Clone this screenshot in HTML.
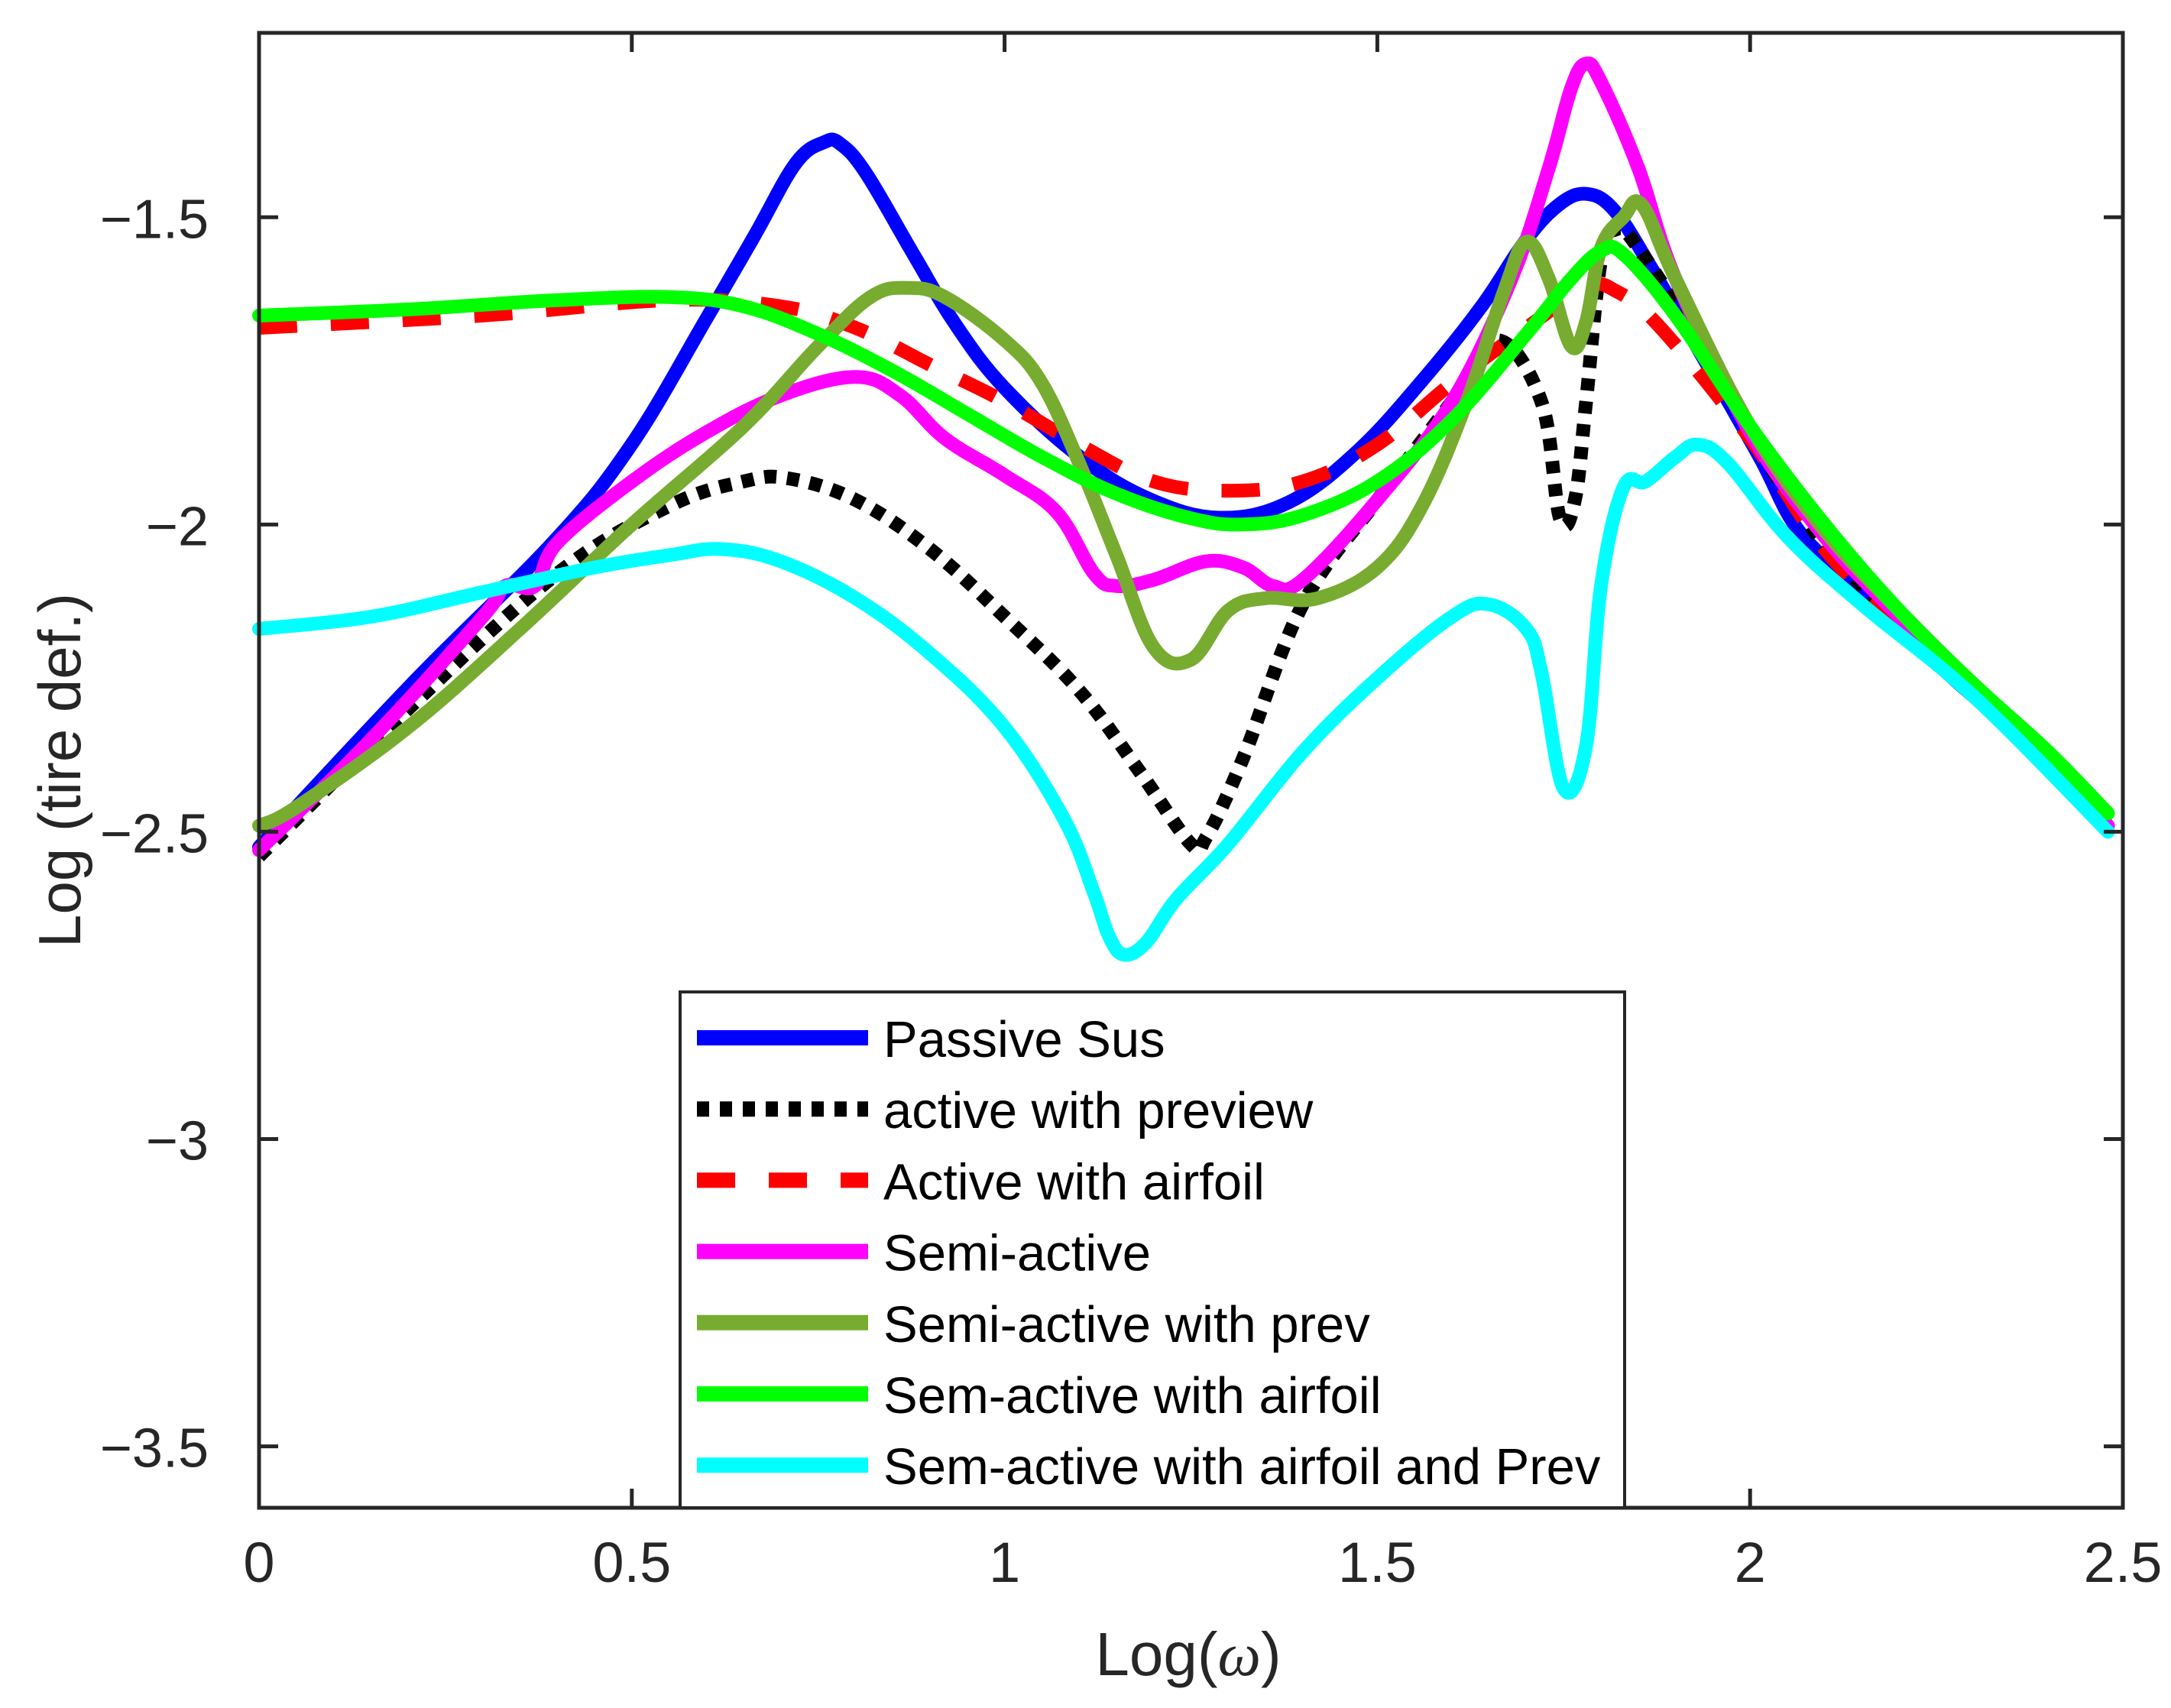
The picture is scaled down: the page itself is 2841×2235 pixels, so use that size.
<!DOCTYPE html>
<html><head><meta charset="utf-8"><style>
html,body{margin:0;padding:0;background:#fff}
svg{display:block;font-family:"Liberation Sans",Arial,sans-serif}
</style></head><body>
<svg id="chart" width="2841" height="2235" viewBox="0 0 2841 2235" xmlns="http://www.w3.org/2000/svg">
<rect width="2841" height="2235" fill="#fff"/>
<g id="plot"></g>
<g id="axes"></g>
<g id="legend"></g>
</svg>
<script>
const xTicks=[0,0.5,1,1.5,2,2.5];
const xTickLabels=["0","0.5","1","1.5","2","2.5"];
const yTicks=[-3.5,-3,-2.5,-2,-1.5];
const yTickLabels=["\u22123.5","\u22123","\u22122.5","\u22122","\u22121.5"];
const seriesNames=["Passive Sus","active with preview","Active with airfoil","Semi-active","Semi-active with prev","Sem-active with airfoil","Sem-active with airfoil and Prev"];
const passiveX=[0,0.21,0.396,0.5,0.6,0.665,0.72,0.758,0.779,0.814,0.879,0.935,1.0,1.102,1.195,1.288,1.381,1.474,1.567,1.641,1.697,1.743,1.781,1.818,1.864,1.939,2.013,2.069,2.162,2.255,2.348,2.478];
const passiveY=[-2.525,-2.253,-2.027,-1.869,-1.665,-1.529,-1.412,-1.378,-1.38,-1.428,-1.563,-1.676,-1.778,-1.891,-1.959,-1.989,-1.964,-1.88,-1.756,-1.643,-1.541,-1.48,-1.462,-1.489,-1.575,-1.733,-1.891,-2.016,-2.118,-2.231,-2.333,-2.491];
const previewX=[0,0.2,0.4,0.55,0.65,0.71,0.8,0.9,1.0,1.1,1.18,1.25,1.27,1.32,1.4,1.5,1.6,1.66,1.72,1.745,1.765,1.78,1.8,1.82,1.85,1.95,2.05,2.15,2.3,2.48];
const previewY=[-2.54,-2.3,-2.08,-1.97,-1.93,-1.925,-1.96,-2.04,-2.15,-2.27,-2.4,-2.52,-2.51,-2.38,-2.13,-1.96,-1.8,-1.7,-1.8,-1.99,-1.96,-1.8,-1.57,-1.52,-1.55,-1.74,-1.95,-2.1,-2.27,-2.49];
const airfoilX=[0,0.3,0.55,0.7,0.8,0.9,1.0,1.1,1.2,1.3,1.4,1.5,1.6,1.7,1.78,1.82,1.88,2.0,2.1,2.2,2.3,2.4,2.48];
const airfoilY=[-1.68,-1.66,-1.635,-1.645,-1.68,-1.74,-1.8,-1.87,-1.93,-1.945,-1.93,-1.87,-1.77,-1.68,-1.615,-1.62,-1.68,-1.86,-2.04,-2.16,-2.27,-2.38,-2.48];
const semiX=[0,0.15,0.3,0.33,0.37,0.4,0.5,0.6,0.7,0.8,0.86,0.92,1.0,1.07,1.12,1.15,1.2,1.27,1.32,1.36,1.4,1.5,1.6,1.68,1.73,1.76,1.78,1.8,1.85,1.9,2.0,2.1,2.2,2.3,2.4,2.48];
const semiY=[-2.53,-2.35,-2.15,-2.1,-2.1,-2.03,-1.93,-1.85,-1.79,-1.76,-1.79,-1.86,-1.92,-1.98,-2.08,-2.1,-2.09,-2.06,-2.07,-2.1,-2.09,-1.96,-1.8,-1.6,-1.42,-1.29,-1.25,-1.28,-1.42,-1.6,-1.85,-2.02,-2.15,-2.27,-2.38,-2.49];
const semiPrevX=[0,0.05,0.2,0.35,0.5,0.65,0.75,0.82,0.87,0.92,1.0,1.05,1.1,1.15,1.2,1.25,1.3,1.35,1.42,1.5,1.56,1.62,1.67,1.7,1.73,1.76,1.78,1.8,1.83,1.855,1.9,2.0,2.1,2.2,2.3,2.4,2.48];
const semiPrevY=[-2.49,-2.46,-2.33,-2.17,-2.0,-1.84,-1.71,-1.63,-1.615,-1.63,-1.7,-1.77,-1.9,-2.05,-2.2,-2.22,-2.14,-2.12,-2.12,-2.07,-1.97,-1.8,-1.62,-1.54,-1.6,-1.71,-1.67,-1.55,-1.5,-1.48,-1.6,-1.84,-2.01,-2.14,-2.26,-2.37,-2.47];
const semiAirX=[0,0.2,0.4,0.55,0.65,0.75,0.85,0.95,1.05,1.15,1.25,1.32,1.4,1.5,1.6,1.7,1.76,1.8,1.83,1.9,2.0,2.1,2.2,2.3,2.4,2.48];
const semiAirY=[-1.66,-1.65,-1.635,-1.63,-1.645,-1.69,-1.75,-1.82,-1.89,-1.95,-1.99,-2.0,-1.985,-1.93,-1.83,-1.69,-1.6,-1.555,-1.56,-1.66,-1.84,-2.0,-2.14,-2.26,-2.37,-2.47];
const semiAirPrevX=[0,0.15,0.3,0.45,0.55,0.62,0.7,0.8,0.9,1.0,1.08,1.12,1.14,1.16,1.19,1.23,1.3,1.4,1.5,1.6,1.65,1.7,1.72,1.75,1.78,1.8,1.83,1.86,1.9,1.93,1.97,2.05,2.15,2.3,2.48];
const semiAirPrevY=[-2.17,-2.15,-2.11,-2.07,-2.05,-2.04,-2.06,-2.12,-2.21,-2.33,-2.48,-2.6,-2.67,-2.7,-2.68,-2.61,-2.52,-2.37,-2.25,-2.15,-2.13,-2.17,-2.24,-2.43,-2.36,-2.1,-1.94,-1.93,-1.89,-1.87,-1.9,-2.02,-2.13,-2.28,-2.5];

const L=339,R=2778,T=43,B=1973,X0=0,X1=2.5,Y0=-3.6,Y1=-1.2;
const sx=v=>L+(v-X0)/(X1-X0)*(R-L);
const sy=v=>B-(v-Y0)/(Y1-Y0)*(B-T);
const NS="http://www.w3.org/2000/svg";
function mk(tag,attrs,parent){const e=document.createElementNS(NS,tag);for(const k in attrs)e.setAttribute(k,attrs[k]);parent.appendChild(e);return e;}
function smoothPath(px,py){
  let d="M"+px[0].toFixed(1)+","+py[0].toFixed(1);
  const t=0.18;
  for(let i=0;i<px.length-1;i++){
    const p0=i>0?i-1:i, p3=i+2<px.length?i+2:i+1;
    const c1x=px[i]+(px[i+1]-px[p0])*t, c1y=py[i]+(py[i+1]-py[p0])*t;
    const c2x=px[i+1]-(px[p3]-px[i])*t, c2y=py[i+1]-(py[p3]-py[i])*t;
    d+=" C"+c1x.toFixed(1)+","+c1y.toFixed(1)+" "+c2x.toFixed(1)+","+c2y.toFixed(1)+" "+px[i+1].toFixed(1)+","+py[i+1].toFixed(1);
  }
  return d;
}

const styles=[
 {c:"#0000FF",w:18,d:null},
 {c:"#000000",w:18,d:"16,14"},
 {c:"#FF0000",w:18,d:"50,44"},
 {c:"#FF00FF",w:18,d:null},
 {c:"#77AC30",w:18,d:null},
 {c:"#00FF00",w:18,d:null},
 {c:"#00FFFF",w:18,d:null}];
const xs=[passiveX,previewX,airfoilX,semiX,semiPrevX,semiAirX,semiAirPrevX];
const ys=[passiveY,previewY,airfoilY,semiY,semiPrevY,semiAirY,semiAirPrevY];
const slugs=["passive-sus","active-with-preview","active-with-airfoil","semi-active","semi-active-with-prev","sem-active-with-airfoil","sem-active-with-airfoil-and-prev"];
const plot=document.getElementById('plot');
for(let i=0;i<7;i++){
  const px=xs[i].map(sx), py=ys[i].map(sy);
  const a={d:smoothPath(px,py),fill:"none",stroke:styles[i].c,"stroke-width":styles[i].w,"stroke-linejoin":"round","stroke-linecap":styles[i].d?"butt":"round"};
  if(styles[i].d)a["stroke-dasharray"]=styles[i].d;
  const p=mk('path',a,plot);
  
  
}

const ax=document.getElementById('axes');
const fr=mk('rect',{x:L,y:T,width:R-L,height:B-T,fill:"none",stroke:"#262626","stroke-width":5},ax);


xTicks.forEach((v,i)=>{
  const x=sx(v);
  mk('line',{x1:x,y1:B,x2:x,y2:B-25,stroke:"#262626","stroke-width":5},ax);
  mk('line',{x1:x,y1:T,x2:x,y2:T+25,stroke:"#262626","stroke-width":5},ax);
  const t=mk('text',{x:x,y:B+97,"text-anchor":"middle","font-size":74,fill:"#262626"},ax);
  t.textContent=xTickLabels[i];
  
  
});
yTicks.forEach((v,i)=>{
  const y=sy(v);
  mk('line',{x1:L,y1:y,x2:L+25,y2:y,stroke:"#262626","stroke-width":5},ax);
  mk('line',{x1:R,y1:y,x2:R-25,y2:y,stroke:"#262626","stroke-width":5},ax);
  const t=mk('text',{x:L-66,y:y+27,"text-anchor":"end","font-size":72,fill:"#262626"},ax);
  t.textContent=yTickLabels[i];
  
  
});
const xt=mk('text',{x:1555,y:2192,"text-anchor":"middle","font-size":80,fill:"#262626"},ax);
xt.innerHTML='Log(<tspan font-style="italic" font-family="Liberation Serif">ω</tspan>)';


const yt=mk('text',{x:0,y:0,transform:"translate(105,1008) rotate(-90)","text-anchor":"middle","font-size":78,fill:"#262626"},ax);
yt.textContent="Log (tire def.)";



const lg=document.getElementById('legend');
const lb=mk('rect',{x:890,y:1298,width:1236,height:675,fill:"#fff",stroke:"#262626","stroke-width":4},lg);


for(let i=0;i<7;i++){
  const cy=1358+i*93.2;
  const a={x1:912,y1:cy,x2:1136,y2:cy,stroke:styles[i].c,"stroke-width":styles[i].w+2};
  if(styles[i].d)a["stroke-dasharray"]=styles[i].d;
  const ln=mk('line',a,lg);
  
  
  const t=mk('text',{x:1156,y:cy+25,"font-size":67,fill:"#000"},lg);
  t.textContent=seriesNames[i];
  
  
}
</script>
</body></html>
